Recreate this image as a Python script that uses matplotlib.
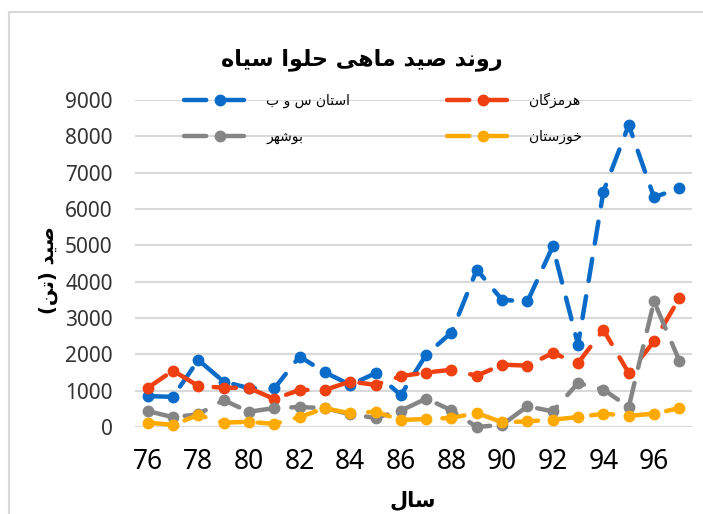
import matplotlib
matplotlib.use("Agg")
import matplotlib.pyplot as plt
from matplotlib.lines import Line2D

years = list(range(76, 98))
tick_years = list(range(76, 97, 2))

sistan = [850, 830, 1845, 1250, 1070, 1060, 1940, 1505, 1160, 1480, 880,
          1990, 2600, 4330, 3500, 3455, 4970, 2265, 6480, 8310, 6325, 6570]
hormozgan = [1075, 1550, 1130, 1080, 1075, 770, 1020, 1020, 1250, 1160, 1400,
             1500, 1575, 1410, 1715, 1690, 2035, 1760, 2675, 1485, 2355, 3545]
bushehr = [440, 270, 350, 740, 420, 520, 550, 520, 350, 250, 450,
           780, 460, 0, 60, 570, 430, 1210, 1030, 550, 3455, 1825]
khuzestan = [120, 60, 330, 118, 146, 83, 275, 515, 377, 420, 193,
             220, 250, 385, 130, 155, 200, 275, 365, 310, 365, 520]

names = ["استان س و ب", "هرمزگان", "بوشهر", "خوزستان"]
colors = ["#0A6CC8", "#EE4010", "#858585", "#FFAA00"]
title = "روند صید ماهی حلوا سیاه"
ylabel = "صید (تن)"
xlabel = "سال"

# matplotlib has no arabic shaping, so pick the presentation forms by hand
FORMS = {
    "ا": ("\uFE8D", "\uFE8E", None, None),
    "ب": ("\uFE8F", "\uFE90", "\uFE91", "\uFE92"),
    "ت": ("\uFE95", "\uFE96", "\uFE97", "\uFE98"),
    "ح": ("\uFEA1", "\uFEA2", "\uFEA3", "\uFEA4"),
    "خ": ("\uFEA5", "\uFEA6", "\uFEA7", "\uFEA8"),
    "د": ("\uFEA9", "\uFEAA", None, None),
    "ر": ("\uFEAD", "\uFEAE", None, None),
    "ز": ("\uFEAF", "\uFEB0", None, None),
    "س": ("\uFEB1", "\uFEB2", "\uFEB3", "\uFEB4"),
    "ش": ("\uFEB5", "\uFEB6", "\uFEB7", "\uFEB8"),
    "ص": ("\uFEB9", "\uFEBA", "\uFEBB", "\uFEBC"),
    "ل": ("\uFEDD", "\uFEDE", "\uFEDF", "\uFEE0"),
    "م": ("\uFEE1", "\uFEE2", "\uFEE3", "\uFEE4"),
    "ن": ("\uFEE5", "\uFEE6", "\uFEE7", "\uFEE8"),
    "ه": ("\uFEE9", "\uFEEA", "\uFEEB", "\uFEEC"),
    "و": ("\uFEED", "\uFEEE", None, None),
    "ی": ("\uFBFC", "\uFBFD", "\uFBFE", "\uFBFF"),
    "گ": ("\uFB92", "\uFB93", "\uFB94", "\uFB95"),
}


def shape(s):
    out = []
    for i, c in enumerate(s):
        if c not in FORMS:
            out.append(c)
            continue
        iso, fin, ini, med = FORMS[c]
        prev = s[i - 1] if i > 0 else None
        nxt = s[i + 1] if i + 1 < len(s) else None
        join_prev = prev in FORMS and FORMS[prev][2] is not None
        join_next = ini is not None and nxt in FORMS
        if join_prev and join_next:
            out.append(med)
        elif join_prev:
            out.append(fin)
        elif join_next:
            out.append(ini)
        else:
            out.append(iso)
    vis = "".join(reversed(out))
    return vis.translate(str.maketrans("()", ")("))


fig = plt.figure(figsize=(7.03, 5.14), dpi=100)
ax = fig.add_axes([135 / 703, 1 - 427 / 514, 557 / 703, 327 / 514])

dash = (0, (5, 3.5))
series = [sistan, hormozgan, bushehr, khuzestan]
for vals, name, col in zip(series, names, colors):
    ax.plot(years, vals, color=col, lw=3.2, linestyle=dash, marker="o",
            markersize=7.5, dash_capstyle="round", solid_capstyle="round",
            label=shape(name), clip_on=False)

ax.set_xlim(75.5, 97.5)
ax.set_ylim(0, 9000)
ax.set_yticks(range(0, 9001, 1000))
ax.set_xticks(tick_years)
ax.grid(axis="y", color="#D9D9D9", lw=1.5)
ax.set_axisbelow(True)
for sp in ax.spines.values():
    sp.set_visible(False)
ax.tick_params(length=0)
ax.tick_params(axis="y", pad=16, labelsize=15, labelcolor="#333333")
ax.tick_params(axis="x", pad=15, labelsize=19)
for lab in ax.get_xticklabels() + ax.get_yticklabels():
    lab.set_fontfamily("Noto Sans")

handles = [Line2D([], [], color=c, lw=3.2, linestyle=dash, marker="o", markersize=7.5,
                  dash_capstyle="round") for c in colors]
order = [0, 2, 1, 3]
leg = ax.legend([handles[i] for i in order], [shape(names[i]) for i in order],
                ncol=2, loc="center", bbox_to_anchor=(383 / 703, 1 - 118 / 514),
                bbox_transform=fig.transFigure, frameon=False, fontsize=10,
                handlelength=5.2, handletextpad=0.7, columnspacing=7, labelspacing=1.55)

fig.text(362 / 703, 1 - 60 / 514, shape(title), ha="center", va="center",
         fontsize=16, fontweight="bold", family="DejaVu Sans")
fig.text(48 / 703, 1 - 270 / 514, shape(ylabel), ha="center", va="center",
         rotation=90, fontsize=14, fontweight="bold", family="DejaVu Sans")
fig.text(413 / 703, 1 - 500 / 514, shape(xlabel), ha="center", va="center",
         fontsize=15, fontweight="bold", family="DejaVu Sans")

# chart border, only left and top edges are in view
fig.add_artist(Line2D([9 / 703, 9 / 703], [0, 1 - 12 / 514], color="#D9D9D9", lw=1.5))
fig.add_artist(Line2D([9 / 703, 1], [1 - 12 / 514, 1 - 12 / 514], color="#D9D9D9", lw=1.5))

fig.savefig("out.png", dpi=100)
